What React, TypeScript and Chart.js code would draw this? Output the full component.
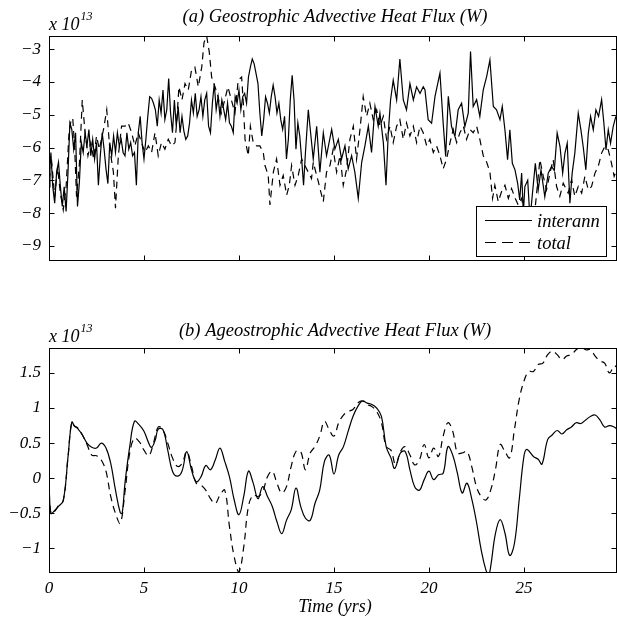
import React, { useEffect, useRef } from "react";
import { Chart, registerables } from "chart.js";

Chart.register(...registerables);

const FONT = '"Liberation Serif", "Times New Roman", serif';
const X_MIN = 0;
const X_MAX = 29.9;
const xTickValues = [0, 5, 10, 15, 20, 25];
const geoYTicks = [-9, -8, -7, -6, -5, -4, -3];
const ageoYTicks = [-1, -0.5, 0, 0.5, 1, 1.5];
const geoYRange = [-9.46, -2.6];
const ageoYRange = [-1.35, 1.855];
const seriesNames = ["interann", "total"];
const panelTitles = [
  "(a) Geostrophic Advective Heat Flux (W)",
  "(b) Ageostrophic Advective Heat Flux (W)",
];
const xAxisTitle = "Time (yrs)";
const exponentBase = "x 10";
const exponentPower = "13";

// (a) geostrophic, interannual  [time (yrs), value (x1e13 W)]
const geoInterann: [number, number][] = [
  [0, -7.2], [0.05, -6.6], [0.1, -6.15], [0.2, -7.2], [0.3, -7.7], [0.4, -6.75], [0.5, -6.45],
  [0.6, -7.2], [0.7, -7.8], [0.8, -7.2], [0.9, -7.95], [1.0, -6.75], [1.1, -5.25], [1.2, -5.45],
  [1.3, -6.05], [1.4, -5.55], [1.5, -7.8], [1.6, -7.05], [1.7, -5.85], [1.8, -6.15], [1.9, -5.55],
  [2.0, -5.95], [2.1, -5.45], [2.2, -6.25], [2.3, -5.75], [2.4, -6.35], [2.5, -5.85], [2.6, -7.15],
  [2.7, -6.25], [2.8, -5.55], [2.9, -6.05], [3.0, -6.65], [3.1, -7.1], [3.2, -5.85], [3.3, -6.25],
  [3.4, -5.65], [3.5, -6.15], [3.6, -5.55], [3.7, -5.95], [3.8, -5.75], [3.9, -6.15], [4.0, -6.25],
  [4.1, -5.55], [4.2, -6.05], [4.3, -5.85], [4.4, -6.25], [4.5, -6.15], [4.6, -7.15], [4.7, -5.55],
  [4.8, -5.05], [4.9, -5.85], [5.0, -6.35], [5.1, -5.75], [5.2, -5.05], [5.3, -4.45], [5.4, -4.5],
  [5.5, -4.65], [5.6, -4.85], [5.7, -5.35], [5.8, -4.55], [5.9, -4.95], [6.0, -4.25], [6.1, -5.15],
  [6.2, -4.85], [6.3, -3.9], [6.4, -4.95], [6.5, -5.55], [6.6, -4.55], [6.7, -5.35], [6.8, -4.75],
  [6.9, -5.55], [7.0, -5.05], [7.1, -5.5], [7.2, -5.75], [7.3, -5.65], [7.4, -5.25], [7.5, -4.55],
  [7.6, -4.95], [7.7, -4.35], [7.8, -5.05], [7.9, -4.85], [8.0, -4.45], [8.1, -5.05], [8.2, -4.55],
  [8.3, -4.35], [8.4, -5.35], [8.5, -5.55], [8.6, -4.65], [8.7, -4.05], [8.8, -4.85], [8.9, -4.45],
  [9.0, -5.05], [9.1, -4.55], [9.2, -4.85], [9.3, -5.15], [9.4, -4.65], [9.5, -5.25], [9.6, -5.35],
  [9.7, -5.55], [9.8, -4.45], [9.9, -4.65], [10.0, -4.25], [10.1, -4.85], [10.2, -4.45], [10.3, -4.35],
  [10.4, -4.65], [10.5, -3.85], [10.6, -3.55], [10.7, -3.3], [10.8, -3.45], [10.9, -3.75], [11.0, -4.05],
  [11.1, -4.95], [11.2, -5.65], [11.3, -5.15], [11.4, -4.45], [11.5, -4.65], [11.6, -4.95], [11.7, -4.45],
  [11.8, -4.1], [11.9, -4.45], [12.0, -4.95], [12.1, -4.65], [12.2, -5.15], [12.3, -5.45], [12.4, -5.05],
  [12.5, -6.35], [12.6, -5.75], [12.7, -4.55], [12.8, -3.8], [12.9, -4.55], [13.0, -6.05], [13.1, -5.25],
  [13.2, -5.65], [13.3, -6.35], [13.4, -7.15], [13.5, -6.15], [13.65, -4.85], [13.91, -6.35], [14.09, -5.35],
  [14.26, -6.75], [14.44, -5.55], [14.61, -6.25], [14.88, -5.45], [15.05, -6.05], [15.23, -5.75], [15.4, -6.35],
  [15.58, -5.95], [15.75, -6.65], [15.93, -6.25], [16.1, -6.75], [16.28, -7.55], [16.46, -6.45], [16.63, -5.95],
  [16.81, -5.35], [16.98, -6.15], [17.16, -4.75], [17.33, -5.35], [17.42, -4.95], [17.6, -5.85], [17.74, -7.15],
  [17.86, -5.55], [17.98, -4.55], [18.12, -3.95], [18.3, -4.55], [18.47, -3.3], [18.65, -4.55], [18.82, -4.85],
  [19.0, -4.05], [19.18, -4.55], [19.35, -4.15], [19.53, -4.35], [19.7, -4.15], [19.79, -4.24], [19.96, -5.15],
  [20.14, -5.26], [20.32, -4.44], [20.58, -3.73], [20.75, -5.26], [20.88, -6.27], [21.02, -4.44], [21.19, -5.36],
  [21.37, -5.66], [21.54, -4.85], [21.72, -4.65], [21.89, -5.36], [22.07, -4.95], [22.19, -3.07], [22.33, -4.75],
  [22.51, -4.54], [22.68, -5.05], [22.86, -4.24], [23.04, -3.83], [23.21, -3.33], [23.39, -4.75], [23.56, -4.85],
  [23.74, -5.15], [23.86, -4.75], [24.0, -5.46], [24.14, -6.37], [24.26, -5.46], [24.39, -6.48], [24.53, -6.68],
  [24.67, -7.09], [24.78, -7.6], [24.88, -6.78], [24.97, -8.0], [25.05, -7.19], [25.2, -7.0], [25.32, -8.2],
  [25.45, -7.4], [25.6, -6.48], [25.75, -7.3], [25.9, -6.68], [26.1, -7.5], [26.28, -6.78], [26.46, -6.58],
  [26.6, -6.7], [26.75, -5.56], [26.9, -5.97], [27.04, -6.78], [27.16, -6.17], [27.28, -5.87], [27.42, -7.7],
  [27.54, -6.78], [27.68, -6.17], [27.86, -4.95], [28.0, -5.46], [28.12, -5.97], [28.26, -6.68], [28.39, -5.56],
  [28.51, -5.05], [28.65, -5.46], [28.79, -4.85], [28.93, -5.05], [29.09, -4.54], [29.21, -5.26], [29.32, -6.07],
  [29.44, -5.46], [29.56, -5.87], [29.7, -5.36], [29.84, -5.05],
];

// (a) geostrophic, total
const geoTotal: [number, number][] = [
  [0, -7.0], [0.15, -6.5], [0.3, -7.5], [0.45, -6.6], [0.6, -7.4], [0.75, -7.9], [0.9, -7.2],
  [1.05, -5.6], [1.15, -5.2], [1.25, -5.1], [1.35, -6.0], [1.45, -7.5], [1.6, -6.5], [1.75, -4.55],
  [1.9, -5.55], [2.05, -6.25], [2.2, -5.85], [2.35, -6.35], [2.5, -5.65], [2.65, -6.05], [2.87, -5.45],
  [3.04, -4.85], [3.2, -6.05], [3.39, -6.75], [3.5, -7.85], [3.65, -6.25], [3.82, -5.35], [4.0, -5.35],
  [4.17, -5.25], [4.35, -5.55], [4.52, -5.95], [4.7, -5.55], [4.87, -5.85], [5.05, -6.15], [5.23, -5.95],
  [5.4, -6.15], [5.58, -5.55], [5.75, -6.25], [5.92, -5.85], [6.1, -6.05], [6.28, -5.75], [6.45, -5.95],
  [6.63, -5.85], [6.72, -5.25], [6.84, -4.15], [7.0, -4.55], [7.16, -4.05], [7.33, -4.25], [7.5, -3.65],
  [7.68, -3.55], [7.86, -4.15], [8.04, -3.55], [8.16, -2.8], [8.3, -2.6], [8.44, -3.1], [8.56, -3.85],
  [8.74, -4.15], [8.9, -4.45], [9.07, -4.95], [9.25, -4.55], [9.42, -4.15], [9.6, -4.55], [9.79, -4.95],
  [9.96, -3.95], [10.14, -3.85], [10.23, -4.65], [10.32, -5.75], [10.49, -6.25], [10.6, -5.35], [10.75, -5.85],
  [10.93, -5.95], [11.1, -5.95], [11.28, -6.15], [11.37, -6.55], [11.54, -6.85], [11.63, -7.75], [11.81, -6.75],
  [11.98, -6.35], [12.16, -7.15], [12.33, -6.85], [12.51, -7.45], [12.65, -7.15], [12.77, -6.55], [12.95, -7.15],
  [13.12, -6.85], [13.3, -6.35], [13.47, -6.55], [13.65, -6.75], [13.82, -6.95], [13.91, -6.45], [14.18, -7.05],
  [14.35, -7.45], [14.44, -7.65], [14.61, -6.75], [14.79, -6.55], [14.96, -6.05], [15.14, -6.75], [15.32, -6.25],
  [15.49, -7.15], [15.67, -6.65], [15.84, -5.75], [16.02, -5.35], [16.19, -6.35], [16.37, -5.45], [16.54, -4.45],
  [16.72, -5.05], [16.89, -4.65], [17.07, -5.15], [17.25, -4.85], [17.42, -5.35], [17.6, -5.05], [17.77, -5.75],
  [17.95, -5.35], [18.12, -5.85], [18.3, -5.35], [18.47, -5.15], [18.65, -5.75], [18.82, -5.25], [19.0, -5.65],
  [19.18, -5.35], [19.35, -5.85], [19.53, -5.35], [19.7, -5.55], [19.88, -5.95], [20.05, -5.75], [20.23, -6.15],
  [20.4, -5.95], [20.58, -6.25], [20.75, -6.65], [20.93, -6.35], [21.11, -5.85], [21.28, -5.45], [21.46, -5.85],
  [21.63, -5.55], [21.81, -5.35], [21.98, -5.75], [22.16, -5.45], [22.33, -5.55], [22.51, -5.35], [22.68, -5.75],
  [22.86, -6.25], [23.04, -6.45], [23.21, -6.75], [23.35, -7.55], [23.47, -7.15], [23.65, -7.65], [23.82, -7.35],
  [24.0, -7.15], [24.18, -7.55], [24.35, -7.25], [24.54, -7.55], [24.7, -7.75], [24.88, -7.55], [25.05, -8.1],
  [25.2, -7.9], [25.4, -8.3], [25.6, -7.8], [25.84, -6.37], [26.02, -6.88], [26.19, -7.29], [26.37, -6.78],
  [26.54, -6.37], [26.72, -7.19], [26.89, -7.49], [27.07, -7.09], [27.33, -7.39], [27.51, -6.98], [27.68, -7.49],
  [27.86, -7.19], [28.04, -7.39], [28.21, -6.88], [28.39, -7.29], [28.56, -7.19], [28.74, -6.78], [28.91, -6.58],
  [29.09, -6.17], [29.26, -5.97], [29.44, -6.07], [29.61, -6.48], [29.75, -6.88], [29.88, -6.68],
];

// (b) ageostrophic, interannual
const ageoInterann: [number, number][] = [
  [0, -0.05], [0.1, -0.5], [0.3, -0.46], [0.5, -0.4], [0.75, -0.32], [1.0, 0.3], [1.2, 0.8], [1.35, 0.74],
  [1.5, 0.71], [1.75, 0.62], [2.0, 0.5], [2.25, 0.44], [2.5, 0.43], [2.75, 0.5], [3.0, 0.43], [3.25, 0.21],
  [3.5, -0.17], [3.75, -0.49], [3.85, -0.5], [4.0, -0.07], [4.25, 0.45], [4.5, 0.81], [4.75, 0.76], [5.0, 0.67],
  [5.25, 0.5], [5.4, 0.44], [5.6, 0.55], [5.75, 0.7], [6.0, 0.69], [6.25, 0.4], [6.5, 0.1], [6.75, 0.03],
  [7.0, 0.1], [7.25, 0.38], [7.5, 0.12], [7.75, -0.05], [8.0, 0.02], [8.25, 0.18], [8.5, 0.12], [8.75, 0.26],
  [9.0, 0.43], [9.25, 0.24], [9.5, 0.02], [9.75, -0.31], [10.0, -0.52], [10.25, -0.26], [10.5, 0.1], [10.75, -0.07],
  [11.0, -0.29], [11.25, -0.12], [11.5, -0.26], [11.75, -0.4], [12.0, -0.62], [12.25, -0.79], [12.5, -0.6],
  [12.75, -0.45], [13.0, -0.14], [13.25, -0.4], [13.5, -0.57], [13.75, -0.6], [14.0, -0.36], [14.25, -0.17],
  [14.5, 0.24], [14.75, 0.33], [15.0, 0.06], [15.25, 0.33], [15.5, 0.45], [15.75, 0.67], [16.0, 0.88],
  [16.25, 1.02], [16.5, 1.1], [16.75, 1.07], [17.0, 1.05], [17.25, 1.0], [17.5, 0.88], [17.75, 0.45],
  [18.0, 0.29], [18.2, 0.14], [18.5, 0.36], [18.75, 0.38], [19.0, 0.12], [19.25, -0.12], [19.5, -0.17],
  [19.75, -0.02], [20.0, 0.1], [20.25, -0.02], [20.5, 0.05], [20.75, 0.07], [21.0, 0.45], [21.25, 0.33],
  [21.5, 0.07], [21.75, -0.21], [22.0, -0.07], [22.25, -0.29], [22.5, -0.62], [22.75, -1.02], [23.0, -1.31],
  [23.15, -1.37], [23.25, -1.26], [23.5, -0.79], [23.75, -0.59], [24.0, -0.78], [24.25, -1.1], [24.5, -0.93],
  [24.75, -0.31], [25.0, 0.31], [25.15, 0.41], [25.5, 0.31], [25.75, 0.27], [25.95, 0.2], [26.25, 0.55],
  [26.5, 0.62], [26.75, 0.68], [27.0, 0.63], [27.25, 0.69], [27.5, 0.73], [27.75, 0.79], [28.0, 0.78],
  [28.25, 0.83], [28.5, 0.88], [28.75, 0.9], [29.0, 0.83], [29.25, 0.73], [29.5, 0.75], [29.75, 0.73], [29.9, 0.7],
];

// (b) ageostrophic, total
const ageoTotal: [number, number][] = [
  [0, -0.05], [0.1, -0.5], [0.3, -0.47], [0.5, -0.39], [0.75, -0.32], [1.0, 0.3], [1.2, 0.8], [1.35, 0.74],
  [1.5, 0.72], [1.75, 0.62], [2.0, 0.48], [2.25, 0.33], [2.5, 0.32], [2.75, 0.26], [3.0, 0.1], [3.25, -0.26],
  [3.5, -0.5], [3.75, -0.64], [4.0, -0.19], [4.25, 0.36], [4.5, 0.57], [4.75, 0.52], [5.0, 0.4], [5.25, 0.32],
  [5.5, 0.5], [5.75, 0.73], [6.0, 0.69], [6.25, 0.5], [6.5, 0.29], [6.75, 0.17], [7.0, 0.21], [7.25, 0.38],
  [7.5, 0.17], [7.75, -0.07], [8.0, -0.1], [8.25, -0.17], [8.5, -0.29], [8.75, -0.36], [9.0, -0.24],
  [9.25, -0.17], [9.5, -0.69], [9.75, -1.12], [10.0, -1.33], [10.25, -0.98], [10.5, -0.4], [10.75, -0.24],
  [11.0, -0.26], [11.25, -0.19], [11.5, 0.02], [11.75, 0.1], [12.0, -0.07], [12.25, -0.21], [12.5, -0.12],
  [12.75, 0.17], [13.0, 0.38], [13.25, 0.38], [13.5, 0.12], [13.75, 0.36], [14.0, 0.45], [14.25, 0.6],
  [14.5, 0.81], [14.75, 0.69], [15.0, 0.6], [15.25, 0.79], [15.5, 0.9], [15.75, 0.95], [16.0, 0.98],
  [16.25, 1.07], [16.5, 1.1], [16.75, 1.05], [17.0, 1.02], [17.25, 0.95], [17.5, 0.79], [17.75, 0.45],
  [18.0, 0.4], [18.25, 0.19], [18.5, 0.38], [18.75, 0.45], [19.0, 0.33], [19.25, 0.19], [19.5, 0.26],
  [19.75, 0.48], [20.0, 0.29], [20.25, 0.43], [20.5, 0.31], [20.75, 0.6], [21.0, 0.79], [21.25, 0.67],
  [21.5, 0.36], [21.75, 0.36], [22.0, 0.38], [22.25, 0.17], [22.5, -0.12], [22.75, -0.26], [23.0, -0.31],
  [23.25, -0.17], [23.5, 0.12], [23.75, 0.48], [24.0, 0.38], [24.25, 0.29], [24.5, 0.69], [24.75, 1.12],
  [25.0, 1.38], [25.25, 1.52], [25.5, 1.52], [25.75, 1.62], [26.0, 1.64], [26.25, 1.76], [26.5, 1.81],
  [26.75, 1.76], [27.0, 1.69], [27.25, 1.74], [27.5, 1.76], [27.75, 1.83], [28.0, 1.87], [28.25, 1.83],
  [28.5, 1.83], [28.75, 1.74], [29.0, 1.67], [29.25, 1.64], [29.5, 1.5], [29.75, 1.6], [29.9, 1.58],
];

const fmt = (v: number) => String(v).replace("-", "\u2212");

const decorPlugin = {
  id: "decor",
  afterDraw(chart: any) {
    const o = chart.options.plugins.decor;
    const { ctx, chartArea: a, scales } = chart;
    ctx.save();
    ctx.strokeStyle = "#000";
    ctx.fillStyle = "#000";
    ctx.lineWidth = 1;
    const L = Math.round(a.left) + 0.5;
    const R = Math.round(a.right) - 0.5;
    const T = Math.round(a.top) + 0.5;
    const B = Math.round(a.bottom) - 0.5;
    ctx.strokeRect(L, T, R - L, B - T);
    const tk = 5;
    ctx.beginPath();
    for (const v of xTickValues) {
      const px = Math.round(scales.x.getPixelForValue(v)) + 0.5;
      ctx.moveTo(px, B);
      ctx.lineTo(px, B - tk);
      ctx.moveTo(px, T);
      ctx.lineTo(px, T + tk);
    }
    for (const v of o.yTicks) {
      const py = Math.round(scales.y.getPixelForValue(v)) + 0.5;
      ctx.moveTo(L, py);
      ctx.lineTo(L + tk, py);
      ctx.moveTo(R, py);
      ctx.lineTo(R - tk, py);
    }
    ctx.stroke();

    // title
    ctx.font = `italic 18.5px ${FONT}`;
    ctx.textAlign = "center";
    ctx.textBaseline = "alphabetic";
    ctx.fillText(o.title, (a.left + a.right) / 2 + 2, o.titleY);

    // exponent
    ctx.textAlign = "left";
    ctx.font = `italic 18px ${FONT}`;
    ctx.fillText(exponentBase, a.left, o.expY);
    const w = ctx.measureText(exponentBase).width;
    ctx.font = `italic 12px ${FONT}`;
    ctx.fillText(exponentPower, a.left + w + 1, o.expY - 10);

    if (o.xTitle) {
      ctx.font = `italic 18px ${FONT}`;
      ctx.textAlign = "center";
      ctx.fillText(o.xTitle, (a.left + a.right) / 2 + 2, o.xTitleY);
    }

    if (o.legend) {
      const lx = 476.5, ly = 206.5, lw = 130, lh = 50;
      ctx.fillStyle = "#fff";
      ctx.fillRect(lx, ly, lw, lh);
      ctx.strokeRect(lx, ly, lw, lh);
      ctx.fillStyle = "#000";
      ctx.lineWidth = 1.2;
      ctx.beginPath();
      ctx.moveTo(485, 220.5);
      ctx.lineTo(532, 220.5);
      ctx.stroke();
      ctx.setLineDash([11, 6]);
      ctx.beginPath();
      ctx.moveTo(485, 242.5);
      ctx.lineTo(532, 242.5);
      ctx.stroke();
      ctx.setLineDash([]);
      ctx.font = `italic 18.5px ${FONT}`;
      ctx.textAlign = "left";
      ctx.fillText(seriesNames[0], 537, 226.5);
      ctx.fillText(seriesNames[1], 537, 248.5);
    }
    ctx.restore();
  },
};

type PanelProps = {
  width: number;
  height: number;
  top: number;
  areaTop: number;
  xAxisHeight: number;
  yRange: number[];
  yTicks: number[];
  inter: [number, number][];
  total: [number, number][];
  title: string;
  titleY: number;
  expY: number;
  showXLabels: boolean;
  xTitle?: string;
  xTitleY?: number;
  legend?: boolean;
  tension: number;
};

function Panel(p: PanelProps) {
  const ref = useRef<HTMLCanvasElement | null>(null);
  useEffect(() => {
    if (!ref.current) return;
    const tickFont = { family: FONT, size: 17, style: "italic" as const };
    const chart = new Chart(ref.current, {
      type: "line",
      data: {
        datasets: [
          {
            label: seriesNames[0],
            data: p.inter.map(([x, y]) => ({ x, y })),
            borderColor: "#000",
            borderWidth: 1.2,
            pointRadius: 0,
            tension: p.tension,
            fill: false,
          },
          {
            label: seriesNames[1],
            data: p.total.map(([x, y]) => ({ x, y })),
            borderColor: "#000",
            borderWidth: 1.2,
            borderDash: [7, 5],
            pointRadius: 0,
            tension: p.tension,
            fill: false,
          },
        ],
      },
      options: {
        responsive: false,
        maintainAspectRatio: false,
        animation: false,
        devicePixelRatio: 1,
        events: [],
        layout: { padding: { top: p.areaTop, right: 0, left: 0, bottom: 0 } },
        plugins: {
          legend: { display: false },
          tooltip: { enabled: false },
          title: { display: false },
          decor: {
            yTicks: p.yTicks,
            title: p.title,
            titleY: p.titleY,
            expY: p.expY,
            xTitle: p.xTitle,
            xTitleY: p.xTitleY,
            legend: p.legend,
          },
        } as any,
        scales: {
          x: {
            type: "linear",
            min: X_MIN,
            max: X_MAX,
            grid: { display: false, drawTicks: false },
            border: { display: false },
            ticks: {
              display: p.showXLabels,
              padding: 5,
              color: "#000",
              font: tickFont,
              maxRotation: 0,
              autoSkip: false,
              callback: (v: any) => fmt(v),
            },
            afterBuildTicks: (s: any) => {
              s.ticks = xTickValues.map((v) => ({ value: v }));
            },
            afterFit: (s: any) => {
              s.height = p.xAxisHeight;
            },
          },
          y: {
            type: "linear",
            min: p.yRange[0],
            max: p.yRange[1],
            grid: { display: false, drawTicks: false },
            border: { display: false },
            ticks: {
              padding: 8,
              color: "#000",
              font: tickFont,
              autoSkip: false,
              callback: (v: any) => fmt(v),
            },
            afterBuildTicks: (s: any) => {
              s.ticks = p.yTicks.map((v) => ({ value: v }));
            },
            afterFit: (s: any) => {
              s.width = 49;
            },
          },
        },
      } as any,
      plugins: [decorPlugin],
    });
    return () => chart.destroy();
  }, []);
  return (
    <canvas
      ref={ref}
      width={p.width}
      height={p.height}
      style={{ position: "absolute", left: 0, top: p.top, width: p.width, height: p.height, display: "block" }}
    />
  );
}

export default function App() {
  return (
    <div style={{ position: "absolute", left: 0, top: 0, width: 617, height: 620, background: "#fff" }}>
      <Panel
        width={617}
        height={300}
        top={0}
        areaTop={36}
        xAxisHeight={39}
        yRange={geoYRange}
        yTicks={geoYTicks}
        inter={geoInterann}
        total={geoTotal}
        title={panelTitles[0]}
        titleY={22}
        expY={30}
        showXLabels={false}
        legend={true}
        tension={0}
      />
      <Panel
        width={617}
        height={320}
        top={300}
        areaTop={48}
        xAxisHeight={47}
        yRange={ageoYRange}
        yTicks={ageoYTicks}
        inter={ageoInterann}
        total={ageoTotal}
        title={panelTitles[1]}
        titleY={35.5}
        expY={41.7}
        showXLabels={true}
        xTitle={xAxisTitle}
        xTitleY={311.7}
        tension={0.4}
      />
    </div>
  );
}
